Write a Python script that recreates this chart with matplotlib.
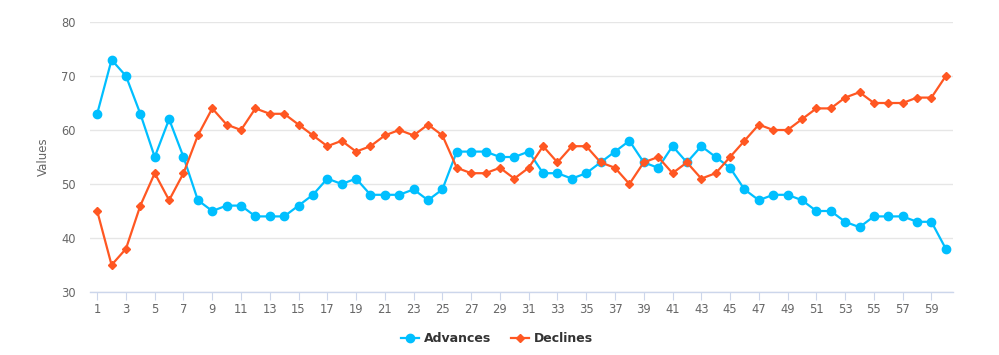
import matplotlib
matplotlib.use("Agg")
import matplotlib.pyplot as plt
from matplotlib.lines import Line2D

categories = list(range(1, 61))
advances = [63, 73, 70, 63, 55, 62, 55, 47, 45, 46, 46, 44, 44, 44, 46, 48, 51, 50, 51, 48,
            48, 48, 49, 47, 49, 56, 56, 56, 55, 55, 56, 52, 52, 51, 52, 54, 56, 58, 54, 53,
            57, 54, 57, 55, 53, 49, 47, 48, 48, 47, 45, 45, 43, 42, 44, 44, 44, 43, 43, 38]
declines = [45, 35, 38, 46, 52, 47, 52, 59, 64, 61, 60, 64, 63, 63, 61, 59, 57, 58, 56, 57,
            59, 60, 59, 61, 59, 53, 52, 52, 53, 51, 53, 57, 54, 57, 57, 54, 53, 50, 54, 55,
            52, 54, 51, 52, 55, 58, 61, 60, 60, 62, 64, 64, 66, 67, 65, 65, 65, 66, 66, 70]
y_ticks = [30, 40, 50, 60, 70, 80]
x_ticks = categories[::2]

blue = "#00BFFF"
orange = "#FF5722"

fig = plt.figure(figsize=(9.99, 3.55), dpi=100)
ax = fig.add_axes([90/999, 63/355, 863/999, 270/355])

ax.plot(categories, advances, color=blue, lw=1.6, marker="o", ms=6, zorder=3, label="Advances")
ax.plot(categories, declines, color=orange, lw=1.6, marker="D", ms=4.0, zorder=3, label="Declines")

ax.set_xlim(0.5, 60.5)
ax.set_ylim(30, 80)
ax.set_yticks(y_ticks)
ax.set_xticks(x_ticks)
ax.set_xticklabels([str(x) for x in x_ticks])
ax.grid(axis="y", color="#e6e6e6", lw=1)
ax.set_axisbelow(True)
for s in ["top", "right", "left"]:
    ax.spines[s].set_visible(False)
ax.spines["bottom"].set_color("#ccd6eb")
ax.spines["bottom"].set_linewidth(1)
ax.tick_params(axis="y", length=0, labelsize=8.3, labelcolor="#666666", pad=10)
ax.tick_params(axis="x", length=6, color="#ccd6eb", labelsize=8.3, labelcolor="#666666", pad=2)
ax.set_ylabel("Values", fontsize=8.5, color="#666666", labelpad=8)

handles = [Line2D([0], [0], color=blue, lw=1.6, marker="o", ms=6),
           Line2D([0], [0], color=orange, lw=1.6, marker="D", ms=4.0)]
fig.legend(handles, ["Advances", "Declines"], loc="center", bbox_to_anchor=(497/999, 1 - 339/355),
           ncol=2, frameon=False, handlelength=1.4, handletextpad=0.4, columnspacing=1.6,
           prop={"weight": "bold", "size": 9}, labelcolor="#333333")

fig.savefig("out.png", dpi=100)
